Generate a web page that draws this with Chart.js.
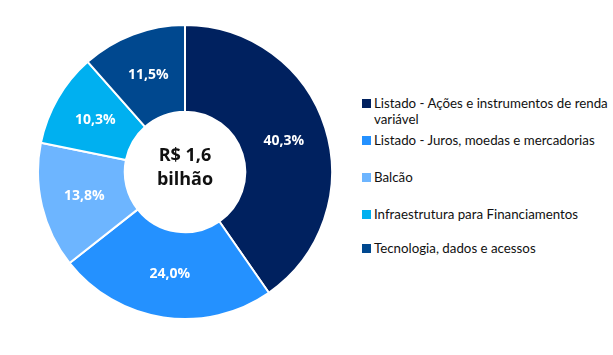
<!DOCTYPE html>
<html><head><meta charset="utf-8">
<script src="https://cdn.jsdelivr.net/npm/chart.js@4/dist/chart.umd.min.js"></script>
<style>
html,body{margin:0;padding:0;background:#fff;width:613px;height:355px;overflow:hidden;font-family:"Open Sans",sans-serif;}
#wrap{position:absolute;left:37px;top:24px;width:296px;height:296px;}
#center{position:absolute;left:125px;top:142px;width:120px;text-align:center;font-weight:bold;font-size:18px;line-height:24px;color:#111;font-family:"Open Sans",sans-serif;}
#legend{position:absolute;left:362px;top:93px;width:251px;font-size:13.3px;color:#111;font-family:Lato,sans-serif;}
.item{position:absolute;left:0;width:251px;line-height:16px;}
.sw{position:absolute;left:0;top:4px;width:9px;height:9px;}
.tx{margin-left:12px;display:block;}
</style></head><body>
<div id="wrap"><canvas id="c"></canvas></div>
<div id="center">R$ 1,6<br>bilhão</div>
<div id="legend"></div>
<script>
const categories = ["Listado - Ações e instrumentos de renda variável","Listado - Juros, moedas e mercadorias","Balcão","Infraestrutura para Financiamentos","Tecnologia, dados e acessos"];
const values = [40.3, 24.0, 13.8, 10.3, 11.5];
const colors = ["#00215F","#2491FF","#6DB5FF","#00B0F0","#00488F"];
const legendTops = [2, 39, 76, 113, 147];

const lg = document.getElementById('legend');
categories.forEach((c,i)=>{
  const d=document.createElement('div');d.className='item';d.style.top=legendTops[i]+'px';
  const s=document.createElement('span');s.className='sw';s.style.background=colors[i];
  const t=document.createElement('span');t.className='tx';t.textContent=c;
  d.appendChild(s);d.appendChild(t);lg.appendChild(d);
});

const labelPlugin={id:'lbl',afterDatasetsDraw(chart){
  const ctx=chart.ctx;const meta=chart.getDatasetMeta(0);
  ctx.save();ctx.fillStyle='#fff';ctx.font='bold 14px "Open Sans"';ctx.textAlign='center';ctx.textBaseline='middle';
  meta.data.forEach((arc,i)=>{const p=arc.tooltipPosition();ctx.fillText(values[i].toFixed(1).replace('.',',')+'%',p.x,p.y);});
  ctx.restore();
}};
new Chart(document.getElementById('c'),{
  type:'doughnut',
  data:{labels:categories,datasets:[{data:values,backgroundColor:colors,borderColor:'#fff',borderWidth:2}]},
  options:{responsive:true,maintainAspectRatio:false,animation:false,cutout:'41%',
    layout:{padding:0},
    plugins:{legend:{display:false},tooltip:{enabled:false}}},
  plugins:[labelPlugin]
});
</script>
</body></html>
